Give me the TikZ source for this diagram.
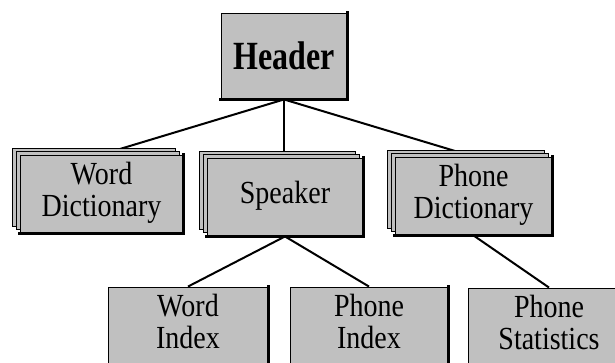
\documentclass[tikz,border=0pt]{standalone}
\usepackage{fontspec}
\usepackage{graphicx}
\setmainfont{Liberation Serif}
\usetikzlibrary{shadows,backgrounds}
\definecolor{boxgray}{RGB}{192,192,192}
% labels are set slightly tall
\newcommand\lbl[1]{\scalebox{1}[1.15]{\begin{tabular}{@{}c@{}}#1\end{tabular}}}
\begin{document}
\begin{tikzpicture}[x=1pt,y=-1pt,
  box/.style={rectangle, draw=black, line width=0.9pt, fill=boxgray,
    inner sep=0pt, align=center, font=\fontsize{28}{27}\selectfont},
  stack/.style={box, double copy shadow={shadow xshift=-4pt, shadow yshift=3.5pt}},
  link/.style={line width=2pt},
  rim/.style={line width=2.4pt, line cap=rect}]
\useasboundingbox (0,0) rectangle (615,362);
\clip (0,0) rectangle (615,362);

% top level
\node[box, minimum width=126pt, minimum height=86pt,
      font=\bfseries\fontsize{32}{36}\selectfont] (header) at (284,56)
      {\scalebox{1}[1.25]{Header}};

% second level: stacked records
\node[stack, minimum width=163pt, minimum height=78pt] (wdict) at (101.5,194) {\lbl{Word\\Dictionary}};
\node[stack, minimum width=156pt, minimum height=78pt] (speaker) at (285,197) {\lbl{Speaker}};
\node[stack, minimum width=157pt, minimum height=78pt] (pdict) at (473.5,196) {\lbl{Phone\\Dictionary}};

% third level
\node[box, minimum width=160pt, minimum height=78pt] (windex) at (188,326) {\lbl{Word\\Index}};
\node[box, minimum width=158pt, minimum height=78pt] (pindex) at (369,326) {\lbl{Phone\\Index}};
\node[box, minimum width=162pt, minimum height=78pt] (pstat) at (549,327) {\lbl{Phone\\Statistics}};

% darker right and bottom edges
\foreach \n in {header,wdict,speaker,pdict,windex,pindex,pstat}
  \draw[rim] (\n.north east) -- (\n.south east) -- (\n.south west);

% connectors
\begin{scope}[on background layer]
  \draw[link] (header.south) -- (wdict.north);
  \draw[link] (header.south) -- (header.south |- speaker.north);
  \draw[link] (header.south) -- (pdict.north);
  \draw[link] (speaker.south) -- (windex.north);
  \draw[link] (speaker.south) -- (pindex.north);
  \draw[link] (pdict.south) -- (pstat.north);
\end{scope}
\end{tikzpicture}
\end{document}
